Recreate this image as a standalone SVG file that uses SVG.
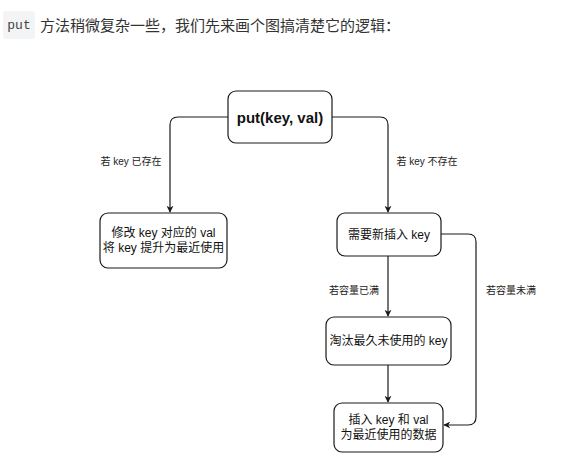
<svg xmlns="http://www.w3.org/2000/svg" width="578" height="463" viewBox="0 0 578 463">
<defs>
<style>
.node rect{fill:#fff;stroke:#1a1a1a;stroke-width:1.2}
.t{font-family:"Liberation Sans","Noto Sans CJK SC",sans-serif;font-size:12px;fill:#111;text-anchor:middle;dominant-baseline:central}
.lbl{font-family:"Liberation Sans","Noto Sans CJK SC",sans-serif;font-size:10px;fill:#222;text-anchor:middle;dominant-baseline:central}
.edge{fill:none;stroke:#1a1a1a;stroke-width:1.2}
</style>
<marker id="arr" viewBox="0 0 10 10" refX="9" refY="5" markerWidth="7" markerHeight="7" orient="auto" markerUnits="userSpaceOnUse">
<path d="M0,0 L10,5 L0,10 L3,5 Z" fill="#1a1a1a"/>
</marker>
</defs>
<rect width="578" height="463" fill="#fff"/>
<g id="header">
<rect x="3" y="11" width="32" height="28" rx="3" fill="#f3f4f5"/>
<text x="19" y="25" font-family="Liberation Mono,monospace" font-size="13" fill="#444" text-anchor="middle" dominant-baseline="central">put</text>
<text x="40" y="25" font-family="Liberation Sans,'Noto Sans CJK SC',sans-serif" font-size="15" fill="#333" dominant-baseline="central">方法稍微复杂一些，我们先来画个图搞清楚它的逻辑：</text>
</g>
<g id="connectors">
<path class="edge" d="M228,117 H178 Q170,117 170,125 V212" marker-end="url(#arr)"/>
<path class="edge" d="M332,117 H380 Q388,117 388,125 V212" marker-end="url(#arr)"/>
<path class="edge" d="M388,256 V316" marker-end="url(#arr)"/>
<path class="edge" d="M388,365 V402" marker-end="url(#arr)"/>
<path class="edge" d="M441,234 H468 Q476,234 476,242 V417 Q476,425 468,425 H444" marker-end="url(#arr)"/>
<text class="lbl" x="131" y="161">若 key 已存在</text>
<text class="lbl" x="427" y="161">若 key 不存在</text>
<text class="lbl" x="354" y="290">若容量已满</text>
<text class="lbl" x="511" y="290">若容量未满</text>
</g>
<g id="n-put" class="node">
<rect x="228" y="91" width="104" height="52" rx="8"/>
<text class="t" x="280" y="117" font-weight="bold" font-size="15" style="font-size:15px">put(key, val)</text>
</g>
<g id="n-update" class="node">
<rect x="100" y="213" width="127" height="55" rx="8"/>
<text class="t" x="163.5" y="233">修改 key 对应的 val</text>
<text class="t" x="163.5" y="248">将 key 提升为最近使用</text>
</g>
<g id="n-insert-needed" class="node">
<rect x="337" y="213" width="104" height="43" rx="8"/>
<text class="t" x="389" y="234.5">需要新插入 key</text>
</g>
<g id="n-evict" class="node">
<rect x="326" y="317" width="125" height="48" rx="8"/>
<text class="t" x="388.5" y="341">淘汰最久未使用的 key</text>
</g>
<g id="n-insert" class="node">
<rect x="334" y="403" width="109" height="49" rx="8"/>
<text class="t" x="388.5" y="420">插入 key 和 val</text>
<text class="t" x="388.5" y="435">为最近使用的数据</text>
</g>
</svg>
